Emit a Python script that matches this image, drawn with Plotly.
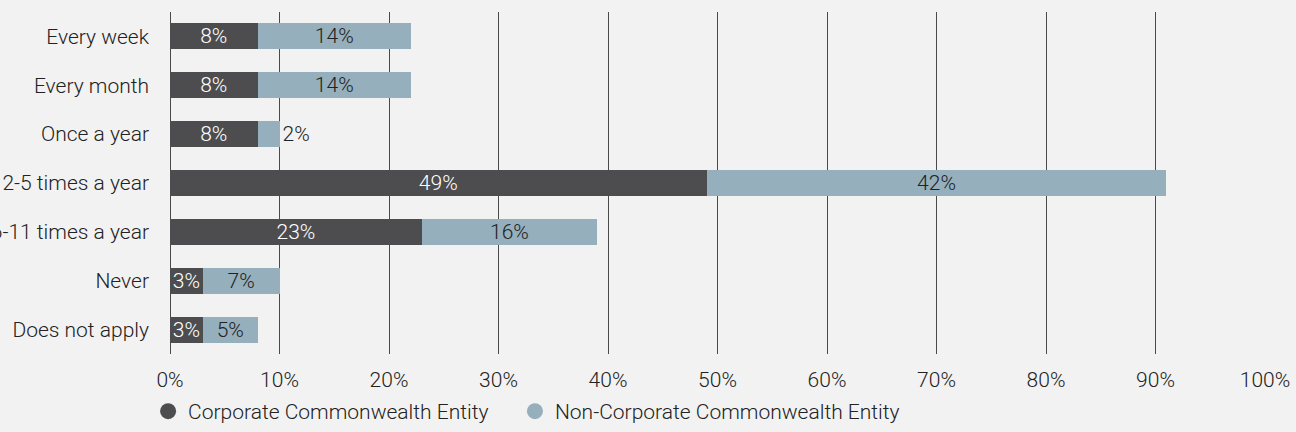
import plotly.graph_objects as go

# Survey response frequency by entity type (percent of respondents)
categories = ["Every week", "Every month", "Once a year", "2-5 times a year",
              "6-11 times a year", "Never", "Does not apply"]
corporate = [8, 8, 8, 49, 23, 3, 3]
non_corporate = [14, 14, 2, 42, 16, 7, 5]
x_ticks = [0, 10, 20, 30, 40, 50, 60, 70, 80, 90, 100]
x_tick_labels = [f"{v}%" for v in x_ticks]

DARK = "#4d4d4f"
LIGHT = "#95afbd"
BG = "#f2f2f2"
TEXT = "#222222"
FONT = "Roboto, Liberation Sans, Arial, sans-serif"
FS = 21
W = 300

fig = go.Figure()

fig.add_trace(go.Bar(
    y=categories, x=corporate, orientation="h",
    name="Corporate Commonwealth Entity",
    marker=dict(color=DARK, line=dict(width=0)),
    text=[f"{v}%" for v in corporate],
    textposition="inside", insidetextanchor="middle",
    constraintext="none",
    textfont=dict(color="#ffffff", size=FS, family=FONT, weight=W),
    showlegend=False, hoverinfo="skip",
))

nc_pos = ["outside" if v < 4 else "inside" for v in non_corporate]
fig.add_trace(go.Bar(
    y=categories, x=non_corporate, orientation="h",
    name="Non-Corporate Commonwealth Entity",
    marker=dict(color=LIGHT, line=dict(width=0)),
    text=[f"{v}%" for v in non_corporate],
    textposition=nc_pos, insidetextanchor="middle",
    constraintext="none", cliponaxis=False,
    textfont=dict(color=TEXT, size=FS, family=FONT, weight=W),
    showlegend=False, hoverinfo="skip",
))

# Legend entries drawn as circles, one legend box per series
for name, color, lg in [("Corporate Commonwealth Entity", DARK, "legend"),
                        ("Non-Corporate Commonwealth Entity", LIGHT, "legend2")]:
    fig.add_trace(go.Scatter(
        x=[None], y=[None], mode="markers", name=name,
        marker=dict(symbol="circle", size=18, color=color),
        showlegend=True, hoverinfo="skip", legend=lg,
    ))

legend_style = dict(
    orientation="h", yref="container", yanchor="bottom", y=-0.016,
    xanchor="left", borderwidth=0,
    font=dict(size=FS, color=TEXT, family=FONT, weight=W),
    bgcolor="rgba(0,0,0,0)", itemsizing="trace",
)

fig.update_layout(
    width=1296, height=432,
    barmode="stack", bargap=0.47,
    paper_bgcolor=BG, plot_bgcolor=BG,
    margin=dict(l=170, r=31, t=12, b=78, autoexpand=False),
    font=dict(family=FONT, size=FS, color=TEXT, weight=W),
    xaxis=dict(
        range=[0, 100], tickvals=x_ticks, ticktext=x_tick_labels,
        showgrid=True, gridcolor="#4a4a4a", gridwidth=1,
        zeroline=True, zerolinecolor="#4a4a4a", zerolinewidth=1,
        showline=False, ticks="", ticklabelstandoff=11,
        tickfont=dict(size=FS, color=TEXT, family=FONT, weight=W),
        automargin=False, fixedrange=True,
    ),
    yaxis=dict(
        categoryorder="array", categoryarray=categories,
        autorange="reversed", showgrid=False, zeroline=False,
        ticks="", ticklabelstandoff=20,
        tickfont=dict(size=FS, color=TEXT, family=FONT, weight=W),
        automargin=False, fixedrange=True,
    ),
    legend=dict(x=-0.020, **legend_style),
    legend2=dict(x=0.315, **legend_style),
)

fig.write_html("out.html")
